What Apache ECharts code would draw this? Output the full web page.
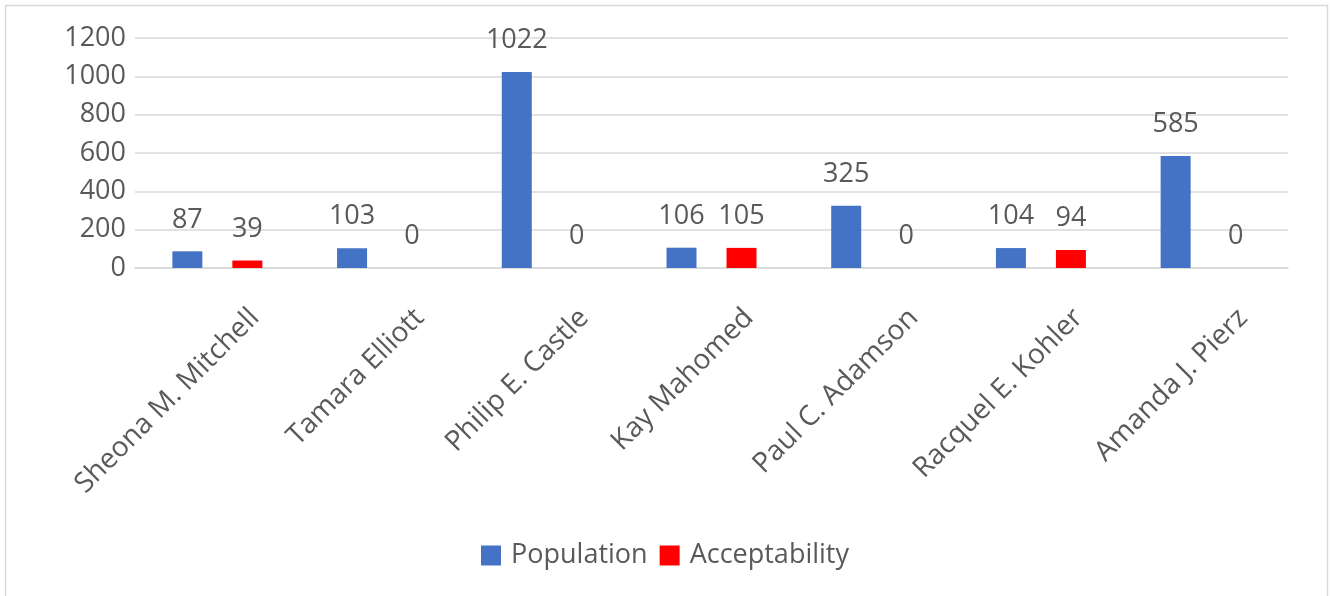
<!DOCTYPE html>
<html>
<head>
<meta charset="utf-8">
<title>Population vs Acceptability</title>
<script src="https://cdn.jsdelivr.net/npm/echarts@6/dist/echarts.min.js"></script>
<style>
  html, body { margin: 0; padding: 0; background: #fff; }
  #chart { width: 1330px; height: 596px; }
</style>
</head>
<body>
<div id="chart"></div>
<script>
// data
const names = ['Sheona M. Mitchell', 'Tamara Elliott', 'Philip E. Castle', 'Kay Mahomed',
  'Paul C. Adamson', 'Racquel E. Kohler', 'Amanda J. Pierz'];
const population = [87, 103, 1022, 106, 325, 104, 585];
const acceptability = [39, 0, 0, 105, 0, 94, 0];
const yTicks = { min: 0, max: 1200, step: 200 };

const textColor = '#595959';
const fontFamily = '"Open Sans", "Noto Sans", sans-serif';

const chart = echarts.init(document.getElementById('chart'));

const option = {
  backgroundColor: '#fff',
  animation: false,
  textStyle: { fontFamily: fontFamily, color: textColor },
  graphic: [{
    type: 'rect',
    shape: { x: 5.5, y: 5.5, width: 1322, height: 600 },
    style: { fill: 'none', stroke: '#d9d9d9', lineWidth: 1.5 },
    silent: true
  }],
  grid: {
    left: 135,
    right: 42,
    top: 38,
    bottom: 328
  },
  legend: {
    data: ['Population', 'Acceptability'],
    left: 'center',
    top: 537,
    icon: 'rect',
    itemWidth: 20,
    itemHeight: 20,
    itemGap: 12,
    textStyle: { fontSize: 27, color: textColor, fontFamily: fontFamily, padding: [0, 0, 0, 5] }
  },
  xAxis: {
    type: 'category',
    data: names,
    axisLine: { show: true, lineStyle: { color: '#d9d9d9', width: 1.5 } },
    axisTick: { show: false },
    axisLabel: {
      interval: 0,
      rotate: 45,
      margin: 8,
      fontSize: 28,
      color: textColor,
      fontFamily: fontFamily,
      verticalAlign: 'top',
      padding: [39, 0, 0, 0]
    }
  },
  yAxis: {
    type: 'value',
    min: yTicks.min,
    max: yTicks.max,
    interval: yTicks.step,
    axisLine: { show: false },
    axisTick: { show: false },
    splitLine: { lineStyle: { color: '#d9d9d9', width: 1.5 } },
    axisLabel: {
      fontSize: 27,
      color: textColor,
      fontFamily: fontFamily,
      margin: 9,
      formatter: v => String(v)
    }
  },
  series: [
    {
      name: 'Population',
      type: 'bar',
      data: population,
      barWidth: 30,
      barGap: '100%',
      itemStyle: { color: '#4472c4' },
      label: { show: true, position: 'top', distance: 18, fontSize: 27, color: textColor, fontFamily: fontFamily }
    },
    {
      name: 'Acceptability',
      type: 'bar',
      data: acceptability,
      barWidth: 30,
      itemStyle: { color: '#ff0000' },
      label: { show: true, position: 'top', distance: 18, fontSize: 27, color: textColor, fontFamily: fontFamily }
    }
  ]
};

chart.setOption(option);
</script>
</body>
</html>
